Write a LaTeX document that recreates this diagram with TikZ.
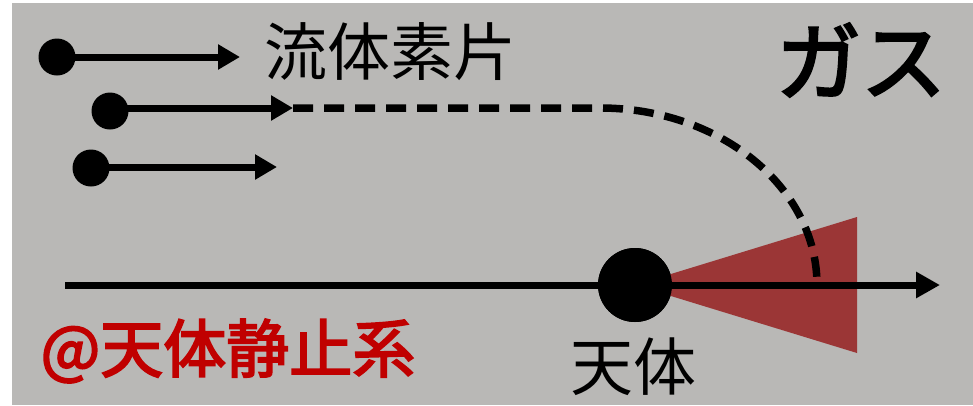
\documentclass[tikz,border=0pt]{standalone}
\usepackage{fontspec}
\newfontfamily\jp{Noto Sans CJK JP}
\newfontfamily\jpm[FakeBold=3]{Noto Sans CJK JP}
\usetikzlibrary{arrows.meta}
\definecolor{bggray}{RGB}{185,184,182}
\definecolor{wedge}{RGB}{155,54,54}
\definecolor{labred}{RGB}{192,0,0}
\tikzset{
  dot/.style={circle,fill=black,inner sep=0pt,minimum size=#1},
  flow/.style={line width=7pt,-{Triangle[length=22pt,width=24pt]}},
  path dash/.style={line width=7.5pt,dash pattern=on 20pt off 11pt},
  lab/.style={inner sep=0pt,anchor=center}
}
\begin{document}
\begin{tikzpicture}[x=1pt,y=1pt]
\useasboundingbox (0,0) rectangle (973,-405);
\fill[bggray] (12,-3) rectangle (973,-405);
% wedge
\coordinate (wt) at (857,-217);
\coordinate (wb) at (857,-353);
\node[dot=74pt] (body) at (635,-285) {};
\fill[wedge] (body.center) -- (wt) -- (wb) -- cycle;
% axis
\coordinate (ax0) at (65,-285);
\coordinate (ax1) at (940,-285);
\draw[line width=7pt,-{Triangle[length=24pt,width=25pt]}] (ax0) -- (ax1);
% fluid elements
\node[dot=37pt] (d1) at (57,-57) {};
\node[dot=37pt] (d2) at (110,-111) {};
\node[dot=37pt] (d3) at (91,-168) {};
\coordinate (t1) at (240,-57);
\coordinate (t2) at (293,-108);
\coordinate (t3) at (277,-167);
\draw[flow] (d1.center) -- (t1);
\draw[flow] (d2.center |- t2) -- (t2);
\draw[flow] (d3.center |- t3) -- (t3);
% dashed trajectory
\coordinate (bend) at (600,-108);
\draw[path dash] (t2) -- (bend) arc[start angle=90,end angle=0,x radius=217pt,y radius=177pt];
% body dot on top
\node[dot=74pt] at (body) {};
% labels
\node[lab,font=\jp\fontsize{63}{63}\selectfont] (ryu) at (390,-52) {流体素片};
\node[lab,font=\jp\fontsize{63}{63}\selectfont] (tentai) at (633,-367) {天体};
\node[lab,font=\jpm\fontsize{85}{85}\selectfont] (gas) at (861,-60) {ガス};
\node[lab,text=labred,font=\jpm\fontsize{63}{63}\selectfont] (frame) at (228,-351) {@天体静止系};
\end{tikzpicture}
\end{document}
